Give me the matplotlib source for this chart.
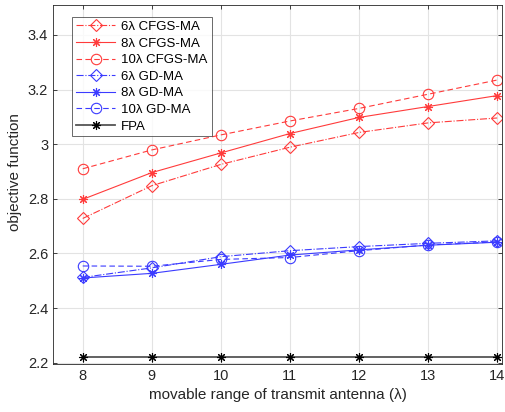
import matplotlib
matplotlib.use("Agg")
import matplotlib.pyplot as plt

plt.rcParams['font.family'] = ['Liberation Sans', 'DejaVu Sans']

x = [8, 9, 10, 11, 12, 13, 14]
cfgs_6 = [2.728, 2.848, 2.926, 2.989, 3.043, 3.078, 3.096]
cfgs_8 = [2.798, 2.896, 2.968, 3.039, 3.098, 3.138, 3.178]
cfgs_10 = [2.910, 2.979, 3.034, 3.085, 3.131, 3.183, 3.235]
gd_6 = [2.512, 2.547, 2.588, 2.610, 2.625, 2.637, 2.646]
gd_8 = [2.510, 2.527, 2.560, 2.594, 2.613, 2.630, 2.641]
gd_10 = [2.554, 2.553, 2.578, 2.585, 2.610, 2.631, 2.642]
fpa = [2.221] * 7
labels = ['6λ CFGS-MA', '8λ CFGS-MA', '10λ CFGS-MA',
          '6λ GD-MA', '8λ GD-MA', '10λ GD-MA', 'FPA']
yticks = [2.2, 2.4, 2.6, 2.8, 3.0, 3.2, 3.4]
yticklabels = ['2.2', '2.4', '2.6', '2.8', '3', '3.2', '3.4']

fig = plt.figure(figsize=(5.05, 4.12), dpi=100)
ax = fig.add_axes([0.105, 0.1165, 0.889, 0.8715])

red = '#ff3b3b'
blue = '#3b3bff'
ast = (8, 2, 0)
ax.plot(x, cfgs_6, color=red, ls='-.', lw=0.8, marker='D', ms=6, mfc='none', mew=0.8, label=labels[0])
ax.plot(x, cfgs_8, color=red, ls='-', lw=0.8, marker=ast, ms=6.5, mew=0.8, label=labels[1])
ax.plot(x, cfgs_10, color=red, ls=(0, (5, 3)), lw=0.8, marker='o', ms=7.5, mfc='none', mew=0.8, label=labels[2])
ax.plot(x, gd_6, color=blue, ls='-.', lw=0.8, marker='D', ms=6, mfc='none', mew=0.8, label=labels[3])
ax.plot(x, gd_8, color=blue, ls='-', lw=0.8, marker=ast, ms=6.5, mew=0.8, label=labels[4])
ax.plot(x, gd_10, color=blue, ls=(0, (5, 3)), lw=0.8, marker='o', ms=7.5, mfc='none', mew=0.8, label=labels[5])
ax.plot(x, fpa, color='#555555', ls='-', lw=1.3, marker=ast, ms=6.5, mec='black', mew=0.8, label=labels[6])

ax.set_xlim(7.57, 14.07)
ax.set_ylim(2.195, 3.51)
ax.set_xticks(x)
ax.set_yticks(yticks)
ax.set_yticklabels(yticklabels)
ax.grid(True, color='#e3e3e3', lw=0.8)
ax.set_axisbelow(True)
ax.tick_params(direction='in', length=3, top=True, right=True, labelsize=10.5, colors='#262626', width=0.6)
for s in ax.spines.values():
    s.set_color('#262626')
    s.set_linewidth(0.6)
ax.set_xlabel('movable range of transmit antenna (λ)', fontsize=11, color='#262626')
ax.set_ylabel('objective function', fontsize=11, color='#262626')
ax.yaxis.set_label_coords(-0.07, 0.535)

leg = ax.legend(loc='upper left', bbox_to_anchor=(0.042, 0.967), fontsize=9.5, frameon=True,
                fancybox=False, edgecolor='#262626', handlelength=3.0, borderpad=0.3,
                labelspacing=0.33, handletextpad=0.45, borderaxespad=0)
leg.get_frame().set_linewidth(0.6)

fig.savefig('out.png', dpi=100)
